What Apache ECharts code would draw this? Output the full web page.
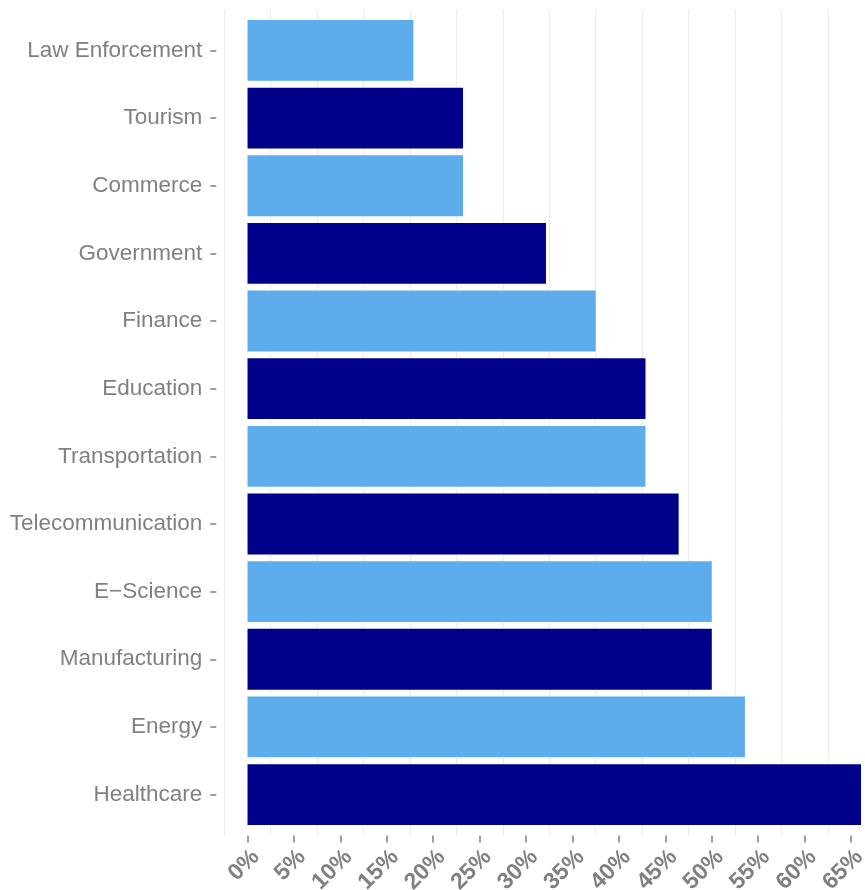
<!DOCTYPE html>
<html>
<head>
<meta charset="utf-8">
<script src="https://cdn.jsdelivr.net/npm/echarts@6/dist/echarts.min.js"></script>
<style>
html,body{margin:0;padding:0;background:#fff;}
#chart{width:865px;height:890px;}
</style>
</head>
<body>
<div id="chart"></div>
<script>
const categories = ['Law Enforcement','Tourism','Commerce','Government','Finance','Education','Transportation','Telecommunication','E\u2212Science','Manufacturing','Energy','Healthcare'];
const values = [17.86, 23.21, 23.21, 32.14, 37.5, 42.86, 42.86, 46.43, 50, 50, 53.57, 66.07];
const tickValues = [0,5,10,15,20,25,30,35,40,45,50,55,60,65];
const rowCenters = [0,1,2,3,4,5,6,7,8,9,10,11];

const chart = echarts.init(document.getElementById('chart'));
const FONT = 'Liberation Sans, Arial, Helvetica, sans-serif';
const GREY = '#808080';
chart.setOption({
  animation: false,
  backgroundColor: '#ffffff',
  textStyle: { fontFamily: FONT },
  grid: [
    { left: 224.3, right: 0, top: 10, bottom: 55, outerBoundsMode: 'none', containLabel: false },
    { left: 224.3, right: 0, top: 16.6, height: 811.8, outerBoundsMode: 'none', containLabel: false }
  ],
  xAxis: [
    {
      gridIndex: 0, type: 'value', min: -2.5, max: 66.5, interval: 5,
      axisLine: { show: false, onZero: false }, axisTick: { show: false }, axisLabel: { show: false },
      splitLine: { show: true, lineStyle: { color: '#ececec', width: 1 } }
    },
    {
      gridIndex: 1, type: 'value', min: -2.5, max: 66.5, interval: 5, offset: 7,
      axisLine: { show: false, onZero: false },
      axisTick: { show: true, customValues: tickValues, length: 7, lineStyle: { color: GREY, width: 1.5 } },
      axisLabel: {
        customValues: tickValues, rotate: 45, margin: 10, verticalAlign: 'top', align: 'right',
        formatter: v => v + '%', fontSize: 23, fontWeight: 'bold', color: GREY, fontFamily: FONT
      },
      splitLine: { show: false }
    }
  ],
  yAxis: [
    {
      gridIndex: 0, type: 'value', min: -0.6, max: 11.6, inverse: true,
      axisLine: { show: false, onZero: false },
      axisTick: { show: false, customValues: rowCenters },
      axisLabel: { show: false },
      splitLine: { show: true, lineStyle: { color: '#ffffff', width: 2 } }
    },
    {
      gridIndex: 1, type: 'category', data: categories, inverse: true, offset: 8,
      axisLine: { show: false, onZero: false },
      axisTick: { show: true, alignWithLabel: true, length: 6, lineStyle: { color: GREY, width: 1.5 } },
      axisLabel: { fontSize: 22.5, color: GREY, margin: 14, fontFamily: FONT },
      splitLine: { show: false }
    }
  ],
  series: [{
    type: 'bar',
    xAxisIndex: 1, yAxisIndex: 1,
    data: values,
    barCategoryGap: '10%',
    itemStyle: { color: p => (p.dataIndex % 2 ? '#00008B' : '#5DADEC') }
  }]
});
</script>
</body>
</html>
